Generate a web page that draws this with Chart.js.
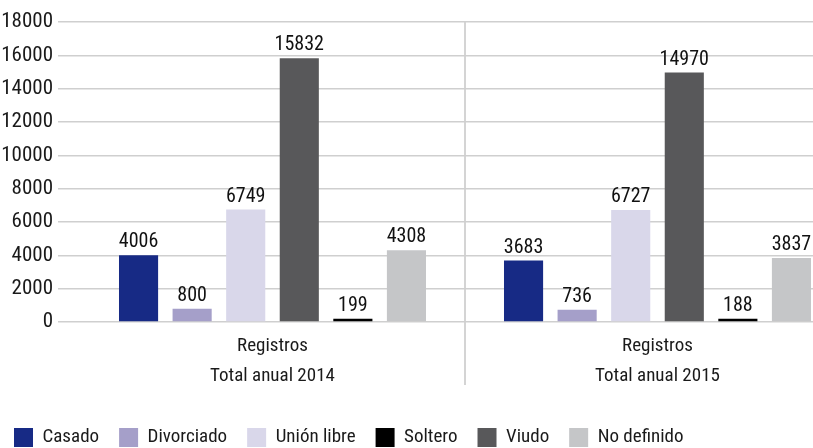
<!DOCTYPE html>
<html>
<head>
<meta charset="utf-8">
<script src="https://cdn.jsdelivr.net/npm/chart.js@4.4.0/dist/chart.umd.min.js"></script>
<style>
	html, body { margin: 0; padding: 0; background: #fff; overflow: hidden; }
	#wrap { width: 852px; height: 448px; }
</style>
</head>
<body>
<div id="wrap"><canvas id="bar-chartcanvas" width="852" height="448"></canvas></div>
<script>
// categories (x axis, two lines each)
var categories = [
	["Registros", "Total anual 2014"],
	["Registros", "Total anual 2015"]
];

// series, in the order the bars are drawn
var seriesNames = ["Casado", "Divorciado", "Unión libre", "Viudo", "Soltero", "No definido"];
var casado     = [4006, 3683];
var divorciado = [800, 736];
var unionLibre = [6749, 6727];
var viudo      = [15832, 14970];
var soltero    = [199, 188];
var noDefinido = [4308, 3837];

// legend order differs from bar order
var legendOrder = ["Casado", "Divorciado", "Unión libre", "Soltero", "Viudo", "No definido"];

// y axis
var yMin = 0;
var yMax = 18000;
var yStep = 2000;

var colors = ["#172a85", "#a59fc9", "#d9d7ea", "#58585a", "#000000", "#c5c6c8"];
var values = [casado, divorciado, unionLibre, viudo, soltero, noDefinido];

var FONT = "'Roboto Condensed', 'Liberation Sans Narrow', sans-serif";
Chart.defaults.font.family = FONT;
Chart.defaults.font.size = 19;
Chart.defaults.color = "#1a1a1a";

var datasets = [];
for (var i = 0; i < seriesNames.length; i++) {
	datasets.push({
		label : seriesNames[i],
		data : values[i],
		backgroundColor : colors[i],
		borderWidth : 0,
		barPercentage : 0.73,
		categoryPercentage : 0.835
	});
}

// draws the value on top of each bar
var valueLabels = {
	id : "valueLabels",
	afterDatasetsDraw : function(chart) {
		var ctx = chart.ctx;
		ctx.save();
		ctx.font = "20px " + FONT;
		ctx.fillStyle = "#111";
		ctx.textAlign = "center";
		ctx.textBaseline = "bottom";
		chart.data.datasets.forEach(function(ds, di) {
			var meta = chart.getDatasetMeta(di);
			meta.data.forEach(function(el, idx) {
				ctx.fillText(String(ds.data[idx]), el.x, el.y - 3);
			});
		});
		ctx.restore();
	}
};

// legend: fixed height so it sits low, nudged a little to the left
var legendTweak = {
	id : "legendTweak",
	beforeInit : function(chart) {
		var legend = chart.legend;
		if (!legend) return;
		var fit = legend.fit;
		legend.fit = function() {
			fit.call(this);
			this.height = 40;
		};
		var draw = legend.draw;
		legend.draw = function() {
			var c = this.ctx;
			c.save();
			c.translate(-6, 0);
			draw.call(this);
			c.restore();
		};
	}
};

var ctx = document.getElementById("bar-chartcanvas");

var chart = new Chart(ctx, {
	type : "bar",
	data : {
		labels : categories,
		datasets : datasets
	},
	options : {
		responsive : false,
		animation : false,
		layout : {
			padding : { top : 22, right : 2, left : 0, bottom : 0 }
		},
		plugins : {
			legend : {
				display : true,
				position : "bottom",
				align : "start",
				labels : {
					boxWidth : 19,
					boxHeight : 19,
					padding : 20,
					color : "#1a1a1a",
					font : { size : 19 },
					sort : function(a, b) {
						return legendOrder.indexOf(a.text) - legendOrder.indexOf(b.text);
					}
				}
			},
			tooltip : { enabled : false }
		},
		scales : {
			x : {
				afterFit : function(scale) { scale.height = 86; },
				grid : {
					offset : true,
					tickLength : 63,
					lineWidth : 2,
					color : function(c) {
						return c.index === 1 ? "#d4d4d4" : "rgba(0,0,0,0)";
					}
				},
				border : { display : false },
				ticks : {
					padding : -54,
					color : "#1a1a1a",
					font : { size : 19, lineHeight : 1.58 }
				}
			},
			y : {
				min : yMin,
				max : yMax,
				afterFit : function(scale) { scale.width = 80; },
				grid : {
					tickLength : 22,
					lineWidth : 1.5,
					color : "#cfcfcf"
				},
				border : { display : false },
				ticks : {
					stepSize : yStep,
					padding : 5,
					color : "#1a1a1a",
					font : { size : 21 },
					callback : function(v) { return String(v); }
				}
			}
		}
	},
	plugins : [valueLabels, legendTweak]
});
</script>
</body>
</html>
